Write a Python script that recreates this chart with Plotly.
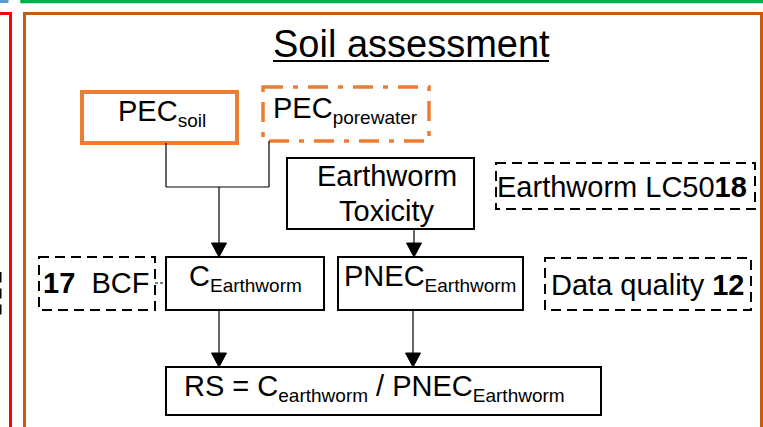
import plotly.graph_objects as go

# ---- diagram content ----
box_names = ["pec_soil", "pec_pore", "tox", "lc50", "bcf", "c_ew", "pnec", "dq", "rs"]
SUB = "<sub><span style='font-size:19px'>{}</span></sub>"
box_labels = [
    "PEC" + SUB.format("soil"),
    "PEC" + SUB.format("porewater"),
    "Earthworm<br>Toxicity",
    "Earthworm LC50<b>18</b>",
    "<b>17</b>  BCF",
    "C" + SUB.format("Earthworm"),
    "PNEC" + SUB.format("Earthworm"),
    "Data quality <b>12</b>",
    "RS = C" + SUB.format("earthworm") + " / PNEC" + SUB.format("Earthworm"),
]
title_text = "Soil assessment"

# ---- layout geometry (pixel space, y downward) ----
box_x0 = [82, 263, 287, 496, 39, 166, 338, 545, 166]
box_x1 = [237, 429, 474, 755, 155, 324, 523, 751, 601]
box_y0 = [92, 87, 158, 163, 257, 257, 257, 258, 367]
box_y1 = [143, 141, 229, 209, 310, 310, 310, 310, 415]
box_color = ["#ED7D31", "#ED7D31", "black", "black", "black", "black", "black", "black", "black"]
box_width = [4, 3.5, 2, 2, 2, 2, 2, 2, 2]
box_dash = ["solid", "20px,10px,5px,10px", "solid", "10px,6px", "10px,6px",
            "solid", "solid", "10px,6px", "solid"]
text_x = [162, 345, 387, 622, 96, 245, 430, 647, 182]
text_y = [113, 110, 176, 187, 283, 278, 278, 285, 388]
line_gap = 35
text_anchor = ["center"] * 8 + ["left"]

W, H = 763, 427
FONT = "Liberation Sans, Arial, sans-serif"

fig = go.Figure()
shapes = []
annotations = []

# surrounding frames (partially visible)
shapes.append(dict(type="rect", x0=-60, x1=7, y0=-60, y1=1.5,
                   line=dict(color="#5B9BD5", width=3)))
shapes.append(dict(type="rect", x0=22, x1=820, y0=-60, y1=1.5,
                   line=dict(color="#00B050", width=3.5)))
shapes.append(dict(type="rect", x0=-60, x1=10.5, y0=13.5, y1=520,
                   line=dict(color="#FF0000", width=3)))
shapes.append(dict(type="rect", x0=24.5, x1=761.5, y0=13.5, y1=520,
                   line=dict(color="#C55A11", width=3)))
shapes.append(dict(type="rect", x0=-80, x1=0.5, y0=273, y1=317,
                   line=dict(color="black", width=2, dash="10px,6px")))

# boxes
for i in range(len(box_names)):
    shapes.append(dict(type="rect", x0=box_x0[i], x1=box_x1[i], y0=box_y0[i], y1=box_y1[i],
                       line=dict(color=box_color[i], width=box_width[i], dash=box_dash[i]),
                       fillcolor="rgba(0,0,0,0)"))
    for k, part in enumerate(box_labels[i].split("<br>")):
        annotations.append(dict(x=text_x[i], y=text_y[i] + k * line_gap, text=part,
                                showarrow=False, xanchor=text_anchor[i], yanchor="middle",
                                font=dict(family=FONT, size=29, color="black")))

# connectors
def line(x0, y0, x1, y1, dash="solid"):
    shapes.append(dict(type="line", x0=x0, y0=y0, x1=x1, y1=y1,
                       line=dict(color="black", width=1.2, dash=dash)))

def arrow(x, y0, y1, hw=7.5, hh=14):
    line(x, y0, x, y1 - hh + 1)
    shapes.append(dict(type="path",
                       path=f"M {x-hw},{y1-hh} L {x+hw},{y1-hh} L {x},{y1} Z",
                       fillcolor="black", line=dict(color="black", width=1)))

line(166, 143, 166, 187)
line(269, 141, 269, 187)
line(166, 187, 269, 187)
arrow(219, 187, 257)
arrow(414, 229, 257)
arrow(219, 310, 367)
arrow(413, 310, 367)
line(155, 283, 166, 283, dash="3px,2px")

# title
annotations.append(dict(x=411, y=44, text=title_text, showarrow=False,
                        xanchor="center", yanchor="middle",
                        font=dict(family=FONT, size=38, color="black")))
shapes.append(dict(type="line", x0=273, x1=549, y0=61, y1=61,
                   line=dict(color="black", width=2)))

fig.update_layout(
    width=W, height=H,
    margin=dict(l=0, r=0, t=0, b=0),
    paper_bgcolor="white", plot_bgcolor="white",
    xaxis=dict(range=[0, W], visible=False, fixedrange=True),
    yaxis=dict(range=[H, 0], visible=False, fixedrange=True),
    shapes=shapes, annotations=annotations,
    showlegend=False,
)
fig.write_html("out.html", config={"displayModeBar": False},
               post_script="document.body.style.margin='0';document.body.style.overflow='hidden';")
